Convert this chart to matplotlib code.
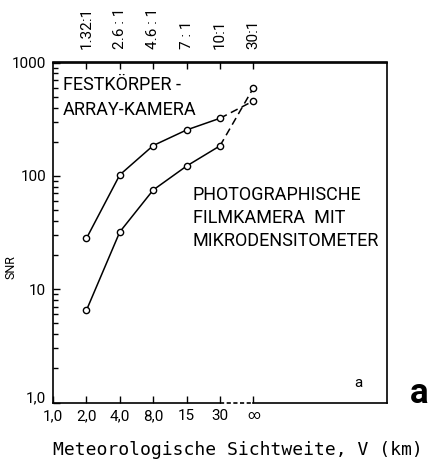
#!/usr/bin/env python
"""SNR vs. meteorological visibility for two camera types (log scale)."""

import matplotlib

matplotlib.use("Agg")
import matplotlib.pyplot as plt
import numpy as np

# x axis: visibility categories (equally spaced), top axis: contrast ratios
vis_labels = ["1,0", "2,0", "4,0", "8,0", "15", "30", "\u221e"]
ratio_labels = ["1.32:1", "2.6 : 1", "4.6 : 1", "7 : 1", "10:1", "30:1"]

# SNR values at V = 2, 4, 8, 15, 30 km and infinity
array_snr = [28, 102, 185, 254, 322, 458]
film_snr = [6.5, 32, 75, 122, 184, 597]

y_ticks = [1, 10, 100, 1000]
y_labels = ["1,0", "10", "100", "1000"]

NARROW = ["Roboto", "DejaVu Sans"]
LW = 1.1


def main() -> None:
    fig = plt.figure(figsize=(4.37, 4.66), dpi=100)
    ax = fig.add_axes([53 / 437, 1 - 402.5 / 466, 334 / 437, 340 / 466])

    pos = np.arange(len(vis_labels))
    data_pos = pos[1:]

    for snr in (array_snr, film_snr):
        ax.plot(data_pos[:-1], snr[:-1], color="black", lw=LW, marker="o", ms=4.5,
                mfc="white", mec="black", mew=1.0, zorder=3)
        ax.plot(data_pos[-2:], snr[-2:], color="black", lw=LW, ls=(0, (5, 3)), zorder=2)
        ax.plot(data_pos[-1:], snr[-1:], ls="none", marker="o", ms=4.5,
                mfc="white", mec="black", mew=1.0, zorder=4)

    ax.set_yscale("log")
    ax.set_ylim(1, 1000)
    ax.set_xlim(0, 10)

    # axis cosmetics
    for side in ("left", "top", "right"):
        ax.spines[side].set_linewidth(1.2)
    ax.spines["bottom"].set_visible(False)
    xt = ax.get_xaxis_transform()
    ax.plot([pos[0], pos[-2]], [0, 0], color="black", lw=1.2, transform=xt, clip_on=False)
    ax.plot([pos[-2], pos[-1]], [0, 0], color="black", lw=1.2, ls=(0, (2.5, 1.5)),
            transform=xt, clip_on=False)
    ax.plot([pos[-1], 10], [0, 0], color="black", lw=1.2, transform=xt, clip_on=False)

    ax.set_xticks(pos, vis_labels, family=NARROW, fontsize=11)
    ax.tick_params(axis="x", direction="in", length=5, width=1.0, pad=5, top=False)
    ax.xaxis.get_ticklabels()[-1].set_fontsize(9)

    ax.set_yticks(y_ticks, y_labels, family=NARROW, fontsize=11)
    ax.tick_params(axis="y", which="major", direction="in", length=5, width=1.0, pad=5)
    ax.tick_params(axis="y", which="minor", direction="in", length=3.5, width=1.0)
    ax.yaxis.get_ticklabels()[0].set_va("baseline")

    sec = ax.secondary_xaxis("top")
    sec.set_xticks(data_pos, ratio_labels, rotation=90, family=NARROW, fontsize=11)
    sec.tick_params(direction="in", length=5, width=1.0, pad=10)
    sec.spines["top"].set_linewidth(1.2)

    ax.set_ylabel("SNR", family=NARROW, fontsize=9)
    ax.yaxis.set_label_coords(-0.126, 0.398)
    ax.yaxis.label.set_va("center")

    ax.set_xlabel("Meteorologische Sichtweite, V (km)", family="DejaVu Sans Mono", fontsize=13)
    ax.xaxis.set_label_coords((238 - 53) / 334, (402.5 - 455) / 340)
    ax.xaxis.label.set_va("baseline")

    txt = dict(family=NARROW, fontsize=13, va="baseline", ha="left")
    ax.text(0.3, 573, "FESTK\u00d6RPER -", **txt)
    ax.text(0.3, 345, "ARRAY-KAMERA", **txt)
    ax.text(4.19, 61.3, "PHOTOGRAPHISCHE", **txt)
    ax.text(4.19, 38.4, "FILMKAMERA  MIT", **txt)
    ax.text(4.19, 24.1, "MIKRODENSITOMETER", **txt)

    ax.text(9.13, 1.37, "a", family=NARROW, fontsize=11, ha="center", va="baseline")
    fig.text(419 / 437, 1 - 403 / 466, "a", family=NARROW, fontsize=25, fontweight="bold",
             ha="center", va="baseline")

    fig.savefig("out.png", dpi=100)
    plt.close(fig)


if __name__ == "__main__":
    main()
